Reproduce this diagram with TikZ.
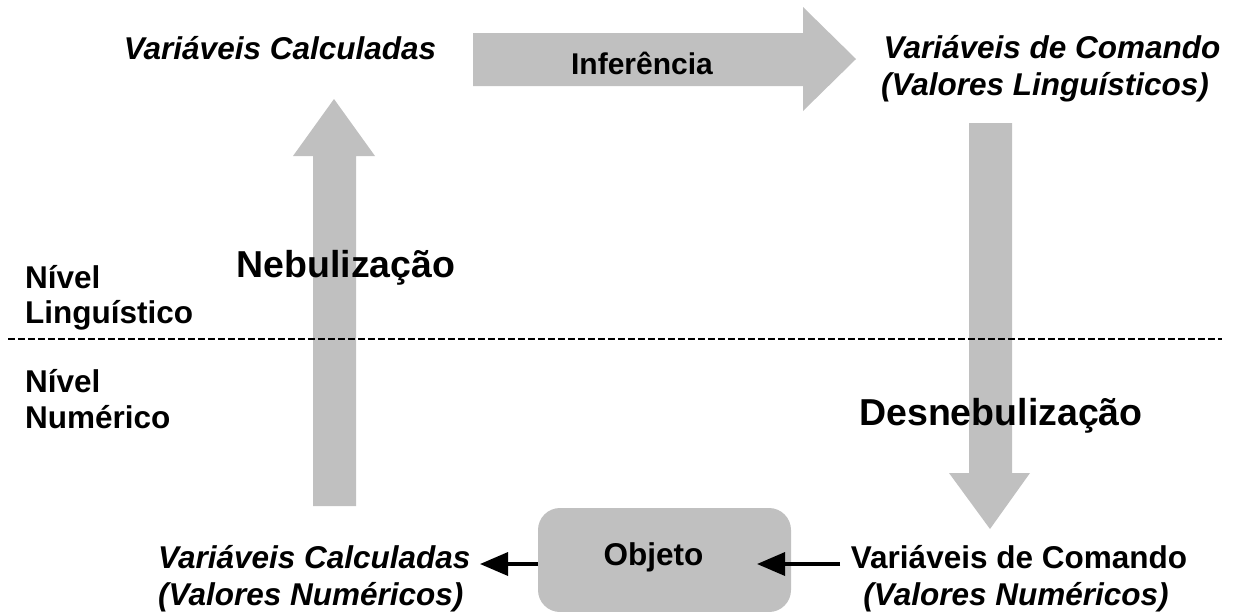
\documentclass[tikz,border=0pt]{standalone}
\usepackage{fontspec}
\setmainfont{Liberation Sans}
\usetikzlibrary{arrows.meta}
\definecolor{blockgray}{RGB}{192,192,192}
\begin{document}
\begin{tikzpicture}[x=1pt,y=-1pt,
  txt/.style={inner sep=0pt, font=\fontsize{31.5}{36}\selectfont\bfseries},
  itxt/.style={inner sep=0pt, font=\fontsize{31.5}{36}\selectfont\bfseries\itshape},
  inftxt/.style={inner sep=0pt, font=\fontsize{30}{34}\selectfont\bfseries},
  bigtxt/.style={inner sep=0pt, font=\fontsize{37.5}{42}\selectfont\bfseries},
  block/.style={fill=blockgray, draw=none},
  objbox/.style={fill=blockgray, draw=none, rounded corners=22pt, minimum width=253pt, minimum height=104pt, inner sep=0pt, outer sep=0pt},
  conn/.style={line width=3.5pt, -{Triangle[length=28pt,width=23pt]}},
  levelline/.style={line width=2.6pt, dash pattern=on 6.5pt off 3.5pt}]
\useasboundingbox (0,0) rectangle (1241,611);
% block arrows
\fill[block] (473,33) -- (803,33) -- (803,7) -- (856,59) -- (803,111) -- (803,86) -- (473,86) -- cycle;
\fill[block] (313,506) -- (313,156) -- (293,156) -- (334,99) -- (375,156) -- (356,156) -- (356,506) -- cycle;
\fill[block] (969,123) -- (1012,123) -- (1012,473) -- (1030,473) -- (990,529) -- (949,473) -- (969,473) -- cycle;
% object box
\node[objbox] (obj) at (664.5,560) {};
\node[txt, anchor=base] (objt) at (653.5,565) {Objeto};
% level separator
\draw[levelline] (8,339) -- (1222,339);
% texts
\node[itxt, anchor=base] (vcTop) at (280,59) {Variáveis Calculadas};
\node[inftxt, anchor=base] (inf) at (642,74) {Inferência};
\node[itxt, anchor=base] (vcmdA) at (1052,58) {Variáveis de Comando};
\node[itxt, anchor=base] (vcmdB) at (1045,95) {(Valores Linguísticos)};
\node[bigtxt, anchor=base] (neb) at (346,277) {Nebulização};
\node[bigtxt, anchor=base] (desneb) at (1001,425) {Desnebulização};
\node[txt, anchor=base west] (nlA) at (25,288) {Nível};
\node[txt, anchor=base west] (nlB) at (25,323) {Linguístico};
\node[txt, anchor=base west] (nnA) at (25,392) {Nível};
\node[txt, anchor=base west] (nnB) at (25,428) {Numérico};
\node[itxt, anchor=base west] (vcBotA) at (158,568) {Variáveis Calculadas};
\node[itxt, anchor=base west] (vcBotB) at (158,605) {(Valores Numéricos)};
\node[txt, anchor=base] (cmdBotA) at (1019,568) {Variáveis de Comando};
\node[itxt, anchor=base] (cmdBotB) at (1016,605) {(Valores Numéricos)};
% connectors
\coordinate (lt) at (480,564);
\coordinate (rs) at (840,564);
\coordinate (rt) at (757,564);
\draw[conn] (obj.west |- lt) -- (lt);
\draw[conn] (rs) -- (rt);
\end{tikzpicture}
\end{document}
